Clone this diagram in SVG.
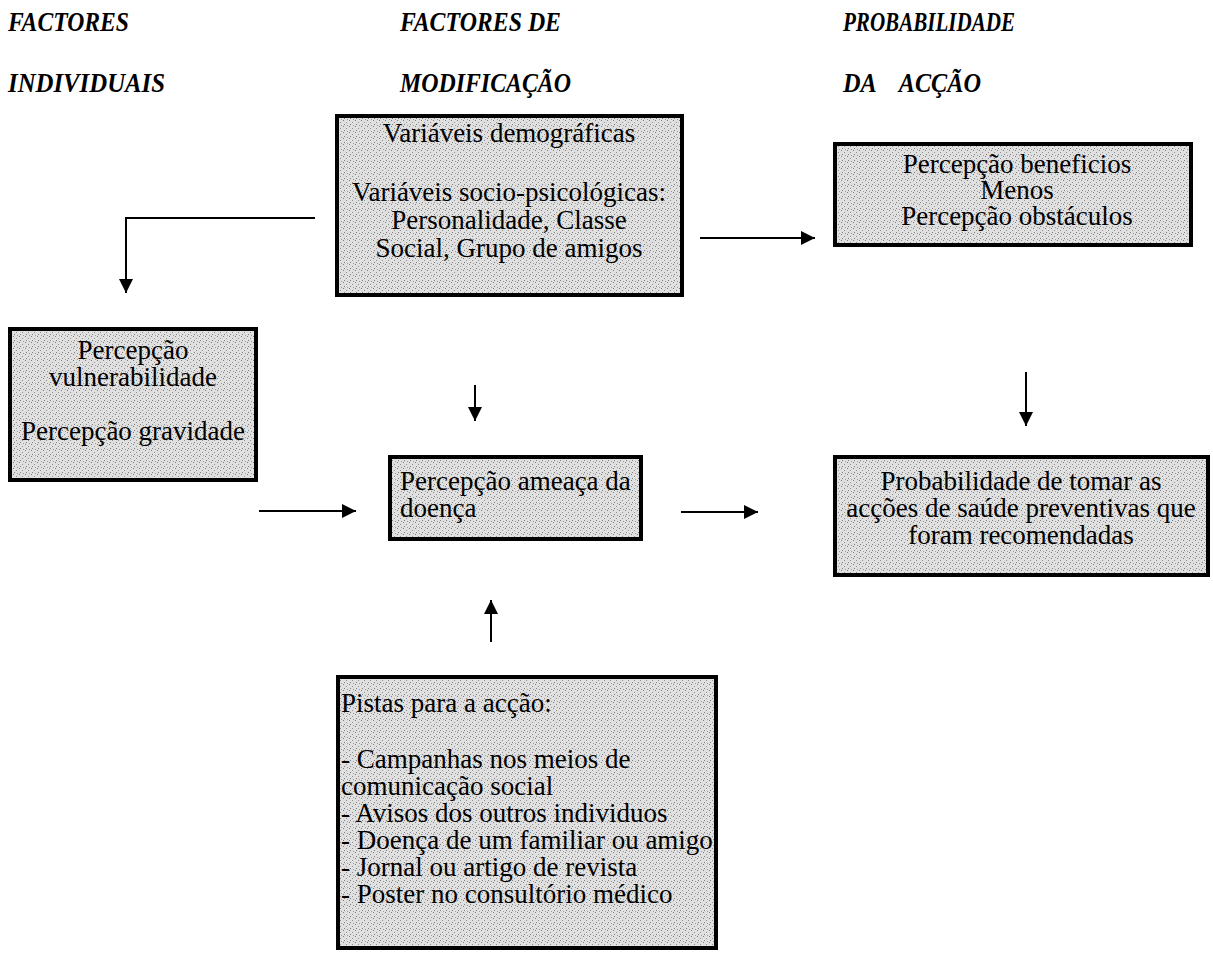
<svg xmlns="http://www.w3.org/2000/svg" width="1213" height="957" viewBox="0 0 1213 957">
<style>
.hdr{font-family:"Liberation Serif","Times New Roman",serif;font-weight:bold;font-style:italic;font-size:27px;fill:#000}
.t{font-family:"Liberation Serif","Times New Roman",serif;font-size:27px;fill:#000}
.c{text-anchor:middle}
.box{fill:url(#stip);stroke:#000;stroke-width:4}
.ln{stroke:#000;stroke-width:2;fill:none}
</style>
<defs>
<pattern id="stip" width="6" height="6" patternUnits="userSpaceOnUse">
<rect width="6" height="6" fill="#e0e0e0"/>
<rect x="1" y="0" width="1" height="1" fill="#7f7f7f"/>
<rect x="4" y="2" width="1" height="1" fill="#909090"/>
<rect x="2" y="4" width="1" height="1" fill="#7f7f7f"/>
<rect x="5" y="5" width="1" height="1" fill="#9c9c9c"/>
</pattern>
<marker id="ah" viewBox="0 0 10 10" refX="10" refY="5" markerWidth="7" markerHeight="7" markerUnits="strokeWidth" orient="auto">
<path d="M0,0 L10,5 L0,10 z" fill="#000"/>
</marker>
</defs>
<rect width="1213" height="957" fill="#fff"/>

<g id="headers">
<text class="hdr" x="8" y="31" textLength="121" lengthAdjust="spacingAndGlyphs">FACTORES</text>
<text class="hdr" x="8" y="92" textLength="157" lengthAdjust="spacingAndGlyphs">INDIVIDUAIS</text>
<text class="hdr" x="400" y="31" textLength="161" lengthAdjust="spacingAndGlyphs">FACTORES DE</text>
<text class="hdr" x="400" y="92" textLength="171" lengthAdjust="spacingAndGlyphs">MODIFICAÇÃO</text>
<text class="hdr" x="843" y="31" textLength="172" lengthAdjust="spacingAndGlyphs">PROBABILIDADE</text>
<text class="hdr" x="843" y="92" xml:space="preserve" textLength="138" lengthAdjust="spacingAndGlyphs">DA    ACÇÃO</text>
</g>

<g id="connectors">
<polyline class="ln" points="315,218 126,218 126,293" marker-end="url(#ah)"/>
<line class="ln" x1="700" y1="238" x2="815" y2="238" marker-end="url(#ah)"/>
<line class="ln" x1="475" y1="385" x2="475" y2="421" marker-end="url(#ah)"/>
<line class="ln" x1="1026" y1="372" x2="1026" y2="426" marker-end="url(#ah)"/>
<line class="ln" x1="259" y1="511" x2="356" y2="511" marker-end="url(#ah)"/>
<line class="ln" x1="681" y1="512" x2="758" y2="512" marker-end="url(#ah)"/>
<line class="ln" x1="491" y1="642" x2="491" y2="600" marker-end="url(#ah)"/>
</g>

<g id="node-modificacao">
<rect class="box" x="337" y="116" width="345" height="179"/>
<text class="t c"><tspan x="509" y="142">Variáveis demográficas</tspan><tspan x="509" y="201">Variáveis socio-psicológicas:</tspan><tspan x="509" y="229">Personalidade, Classe</tspan><tspan x="509" y="257">Social, Grupo de amigos</tspan></text>
</g>

<g id="node-beneficios">
<rect class="box" x="835" y="144" width="356" height="101"/>
<text class="t c"><tspan x="1017" y="173">Percepção beneficios</tspan><tspan x="1017" y="199">Menos</tspan><tspan x="1017" y="225">Percepção obstáculos</tspan></text>
</g>

<g id="node-individuais">
<rect class="box" x="10" y="329" width="246" height="151"/>
<text class="t c"><tspan x="133" y="359">Percepção</tspan><tspan x="133" y="386">vulnerabilidade</tspan><tspan x="133" y="440">Percepção gravidade</tspan></text>
</g>

<g id="node-ameaca">
<rect class="box" x="390" y="457" width="251" height="82"/>
<text class="t"><tspan x="400" y="490">Percepção ameaça da</tspan><tspan x="400" y="517">doença</tspan></text>
</g>

<g id="node-probabilidade">
<rect class="box" x="835" y="457" width="373" height="118"/>
<text class="t c"><tspan x="1021" y="490">Probabilidade de tomar as</tspan><tspan x="1021" y="517">acções de saúde preventivas que</tspan><tspan x="1021" y="544">foram recomendadas</tspan></text>
</g>

<g id="node-pistas">
<rect class="box" x="338" y="677" width="378" height="271"/>
<text class="t"><tspan x="341" y="712">Pistas para a acção:</tspan><tspan x="341" y="768">- Campanhas nos meios de</tspan><tspan x="341" y="795">comunicação social</tspan><tspan x="341" y="822">- Avisos dos outros individuos</tspan><tspan x="341" y="849">- Doença de um familiar ou amigo</tspan><tspan x="341" y="876">- Jornal ou artigo de revista</tspan><tspan x="341" y="903">- Poster no consultório médico</tspan></text>
</g>
</svg>
